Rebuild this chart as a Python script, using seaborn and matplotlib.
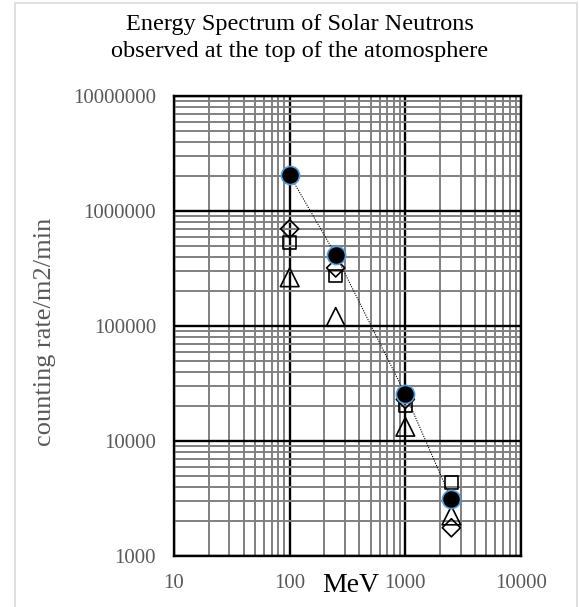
import numpy as np
import pandas as pd
import seaborn as sns
import matplotlib
matplotlib.use("Agg")
import matplotlib.pyplot as plt
from matplotlib.patches import Rectangle
from matplotlib.ticker import LogLocator, FixedLocator, NullFormatter

# Energy bins (MeV)
energy = [100, 250, 1000, 2500]

# Counting rates (counts / m2 / min) for each estimate
rate_circle = [2050000, 415000, 25500, 3100]
rate_diamond = [700000, 320000, 23000, 1760]
rate_square = [535000, 272000, 20500, 4350]
rate_triangle = [265000, 120000, 13300, 2250]

x_ticks = [10, 100, 1000, 10000]
y_ticks = [1000, 10000, 100000, 1000000, 10000000]

title = "Energy Spectrum of Solar Neutrons\nobserved at the top of the atomosphere"
x_label = "MeV"
y_label = "counting rate/m2/min"

sns.set_theme(style="white")
plt.rcParams["font.family"] = ["Liberation Serif", "DejaVu Serif"]

W, H = 579, 607
fig = plt.figure(figsize=(W / 100, H / 100), dpi=100)
fig.patch.set_facecolor("white")
fig.add_artist(Rectangle((15 / W, -0.01), 562 / W, 1 - 3 / H + 0.01,
                         transform=fig.transFigure, fill=False,
                         edgecolor="#d9d9d9", linewidth=1.2))

ax = fig.add_axes([174 / W, 1 - 556 / H, (521 - 174) / W, (556 - 96) / H])
ax.set_xscale("log")
ax.set_yscale("log")
ax.set_xlim(10, 10000)
ax.set_ylim(1000, 10000000)

# grid: grey minor lines, black decade lines
ax.xaxis.set_minor_locator(LogLocator(base=10, subs=np.arange(2, 10)))
ax.yaxis.set_minor_locator(LogLocator(base=10, subs=np.arange(2, 10)))
ax.xaxis.set_minor_formatter(NullFormatter())
ax.yaxis.set_minor_formatter(NullFormatter())
ax.grid(which="minor", color="#808080", linewidth=1.4, zorder=0)
ax.grid(which="major", color="black", linewidth=1.7, zorder=0)
ax.set_axisbelow(True)
for s in ax.spines.values():
    s.set_color("black")
    s.set_linewidth(1.7)

ax.xaxis.set_major_locator(FixedLocator(x_ticks))
ax.yaxis.set_major_locator(FixedLocator(y_ticks))
ax.set_xticklabels([str(v) for v in x_ticks])
ax.set_yticklabels([str(v) for v in y_ticks])
ax.tick_params(which="both", length=0)
ax.tick_params(axis="y", labelsize=15, labelcolor="#595959", pad=13)
ax.tick_params(axis="x", labelsize=15, labelcolor="#595959", pad=13)

series = [
    (rate_triangle, "^", 180, 3),
    (rate_square, "s", 85, 3),
    (rate_diamond, "D", 85, 3),
]
for vals, mk, sz, z in series:
    sns.scatterplot(x=energy, y=vals, marker=mk, s=sz, facecolor="none",
                    edgecolor="black", linewidth=1.2, ax=ax, zorder=z,
                    legend=False)

sns.lineplot(x=energy, y=rate_circle, color="black", linestyle=(0, (1, 1.2)),
             linewidth=0.8, ax=ax, zorder=4, legend=False)
sns.scatterplot(x=energy, y=rate_circle, marker="o", s=170, color="black",
                edgecolor="#5b9bd5", linewidth=1.2, ax=ax, zorder=5,
                legend=False)

ax.set_xlabel("")
ax.set_ylabel("")
fig.text(45 / W, 1 - 332 / H, y_label, fontsize=19, color="#595959",
         rotation=90, ha="center", va="center")
fig.text(351 / W, 1 - 586 / H, x_label, fontsize=20, color="black",
         ha="center", va="center")
fig.text(300 / W, 1 - 38 / H, title, fontsize=17.5, color="black",
         ha="center", va="center", linespacing=1.35)

fig.savefig("out.png", dpi=100)
